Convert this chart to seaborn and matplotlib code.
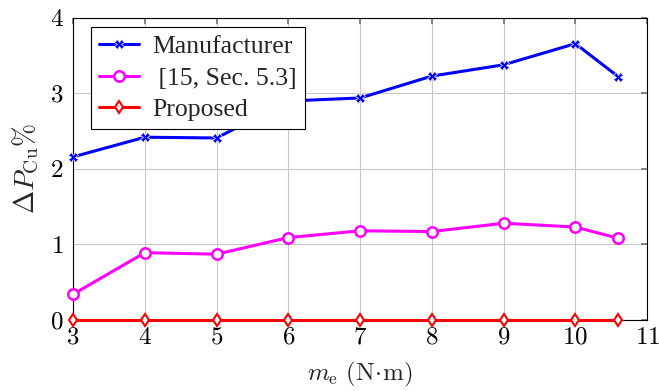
import matplotlib
matplotlib.use("Agg")
import matplotlib.pyplot as plt
import seaborn as sns
import pandas as pd

torque = [3, 4, 5, 6, 7, 8, 9, 10, 10.6]
manufacturer = [2.16, 2.42, 2.41, 2.90, 2.94, 3.23, 3.38, 3.66, 3.22]
ref_method = [0.34, 0.89, 0.87, 1.09, 1.18, 1.17, 1.28, 1.23, 1.08]
proposed = [0, 0, 0, 0, 0, 0, 0, 0, 0]
series_names = ["Manufacturer", " [15, Sec. 5.3]", "Proposed"]
x_ticks = [3, 4, 5, 6, 7, 8, 9, 10, 11]
y_ticks = [0, 1, 2, 3, 4]

sns.set_theme(style="whitegrid")
plt.rcParams["font.family"] = ["Liberation Serif", "DejaVu Serif"]
plt.rcParams["mathtext.fontset"] = "cm"

fig = plt.figure(figsize=(6.59, 3.91), dpi=100)
ax = fig.add_axes([0.111, 0.182, 0.871, 0.772])

styles = [
    dict(color="#0000ff", marker="X", markersize=6.5, markeredgewidth=0.5),
    dict(color="#ff00ff", marker="o", markersize=7.5, markerfacecolor="white",
         markeredgecolor="#ff00ff", markeredgewidth=1.8),
    dict(color="#ff0000", marker="d", markersize=6.5, markerfacecolor="white",
         markeredgecolor="#ff0000", markeredgewidth=1.5),
]
for name, vals, st in zip(series_names, [manufacturer, ref_method, proposed], styles):
    df = pd.DataFrame({"x": torque, "y": vals})
    sns.lineplot(data=df, x="x", y="y", ax=ax, label=name, linewidth=2.2,
                 clip_on=False, zorder=3, **st)

ax.set_xlim(3, 11)
ax.set_ylim(0, 4)
ax.set_xticks(x_ticks)
ax.set_yticks(y_ticks)
ax.set_xticklabels([f"${t}$" for t in x_ticks])
ax.set_yticklabels([f"${t}$" for t in y_ticks])
ax.tick_params(axis="both", which="both", direction="in", length=4, labelsize=18,
               top=True, right=True, color="#777777", labelcolor="black")
ax.tick_params(axis="x", pad=5)
ax.tick_params(axis="y", pad=7)
ax.grid(True, color="#c8c8c8", linewidth=0.8)
for sp in ax.spines.values():
    sp.set_color("black")
    sp.set_linewidth(0.8)

ax.set_xlabel(r"$m_{\mathrm{e}}\ (\mathrm{N}\!\cdot\!\mathrm{m})$", fontsize=18, labelpad=8)
ax.set_ylabel(r"$\Delta P_{\mathrm{Cu}}\%$", fontsize=20, labelpad=6)

leg = ax.legend(loc="upper left", bbox_to_anchor=(0.031, 0.97), borderaxespad=0,
                fontsize=18.5, frameon=True, fancybox=False, framealpha=1,
                edgecolor="black", borderpad=0.32, labelspacing=0.33,
                handlelength=1.55, handletextpad=0.5)
leg.get_frame().set_linewidth(0.8)

fig.savefig("out.png", dpi=100)
